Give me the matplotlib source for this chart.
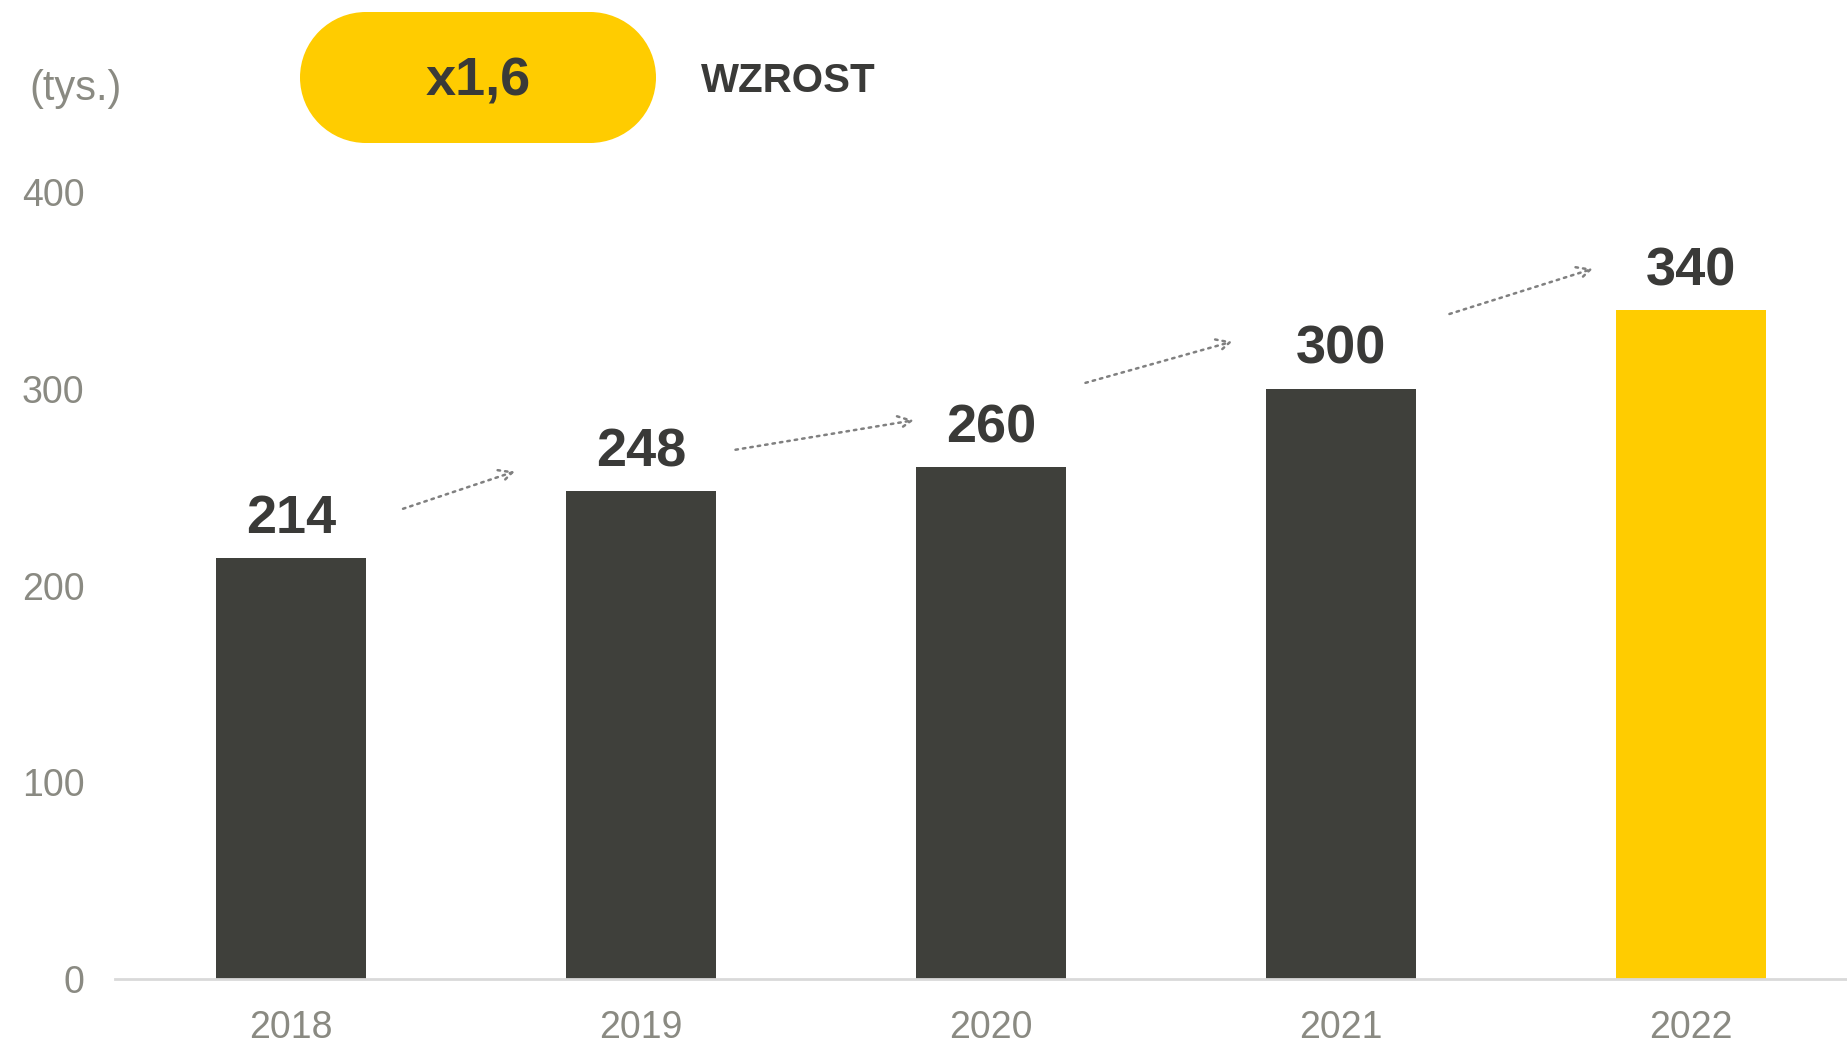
import matplotlib
matplotlib.use("Agg")
import matplotlib.pyplot as plt
from matplotlib.patches import Rectangle, Ellipse

YEARS = ["2018", "2019", "2020", "2021", "2022"]
VALUES = [214, 248, 260, 300, 340]
Y_TICKS = [0, 100, 200, 300, 400]
UNIT = "(tys.)"
BADGE = "x1,6"
BADGE_LABEL = "WZROST"
# dotted growth arrows between bars: (x0, y0, x1, y1) in data units
ARROWS = [(0.32, 239, 0.64, 258),
          (1.27, 269, 1.78, 284),
          (2.27, 303, 2.69, 324),
          (3.31, 338, 3.72, 361)]

DARK = "#3f403b"
YELLOW = "#ffcc00"
GREY = "#8a8a82"
TXT = "#3a3a38"

plt.rcParams["font.family"] = ["Liberation Sans", "DejaVu Sans"]

W, H = 1847, 1045
fig = plt.figure(figsize=(W / 100, H / 100), dpi=100)
ax = fig.add_axes([115 / W, (H - 979) / H, 1 - 115 / W, (979 - 192) / H])

colors = [DARK] * (len(VALUES) - 1) + [YELLOW]
x = range(len(VALUES))
ax.bar(x, VALUES, width=0.43, color=colors, zorder=2)
for i, v in enumerate(VALUES):
    ax.annotate(f"{v}", (i, v), xytext=(0, 10), textcoords="offset points",
                ha="center", va="bottom", fontsize=39, fontweight="bold",
                color=TXT, annotation_clip=False)

for x0, y0, x1, y1 in ARROWS:
    ax.annotate("", xy=(x1, y1), xytext=(x0, y0),
                arrowprops=dict(arrowstyle="->", color="#808080", lw=1.8,
                                linestyle=(0, (1, 2)), mutation_scale=24,
                                shrinkA=0, shrinkB=0))

ax.set_xlim(-0.503, 4.446)
ax.set_ylim(0, 400)
ax.set_xticks(list(x))
ax.set_xticklabels(YEARS)
ax.set_yticks(Y_TICKS)
ax.tick_params(axis="both", length=0, labelsize=27, labelcolor=GREY)
ax.tick_params(axis="x", pad=22)
ax.tick_params(axis="y", pad=22)
for s in ["top", "right", "left"]:
    ax.spines[s].set_visible(False)
ax.spines["bottom"].set_color("#d9d9d9")
ax.spines["bottom"].set_linewidth(2)

# overlay in pixel coordinates for header items
ov = fig.add_axes([0, 0, 1, 1], zorder=5)
ov.set_xlim(0, W)
ov.set_ylim(H, 0)
ov.axis("off")
ov.patch.set_alpha(0)
# pill-shaped badge: straight middle + round ends
ov.add_patch(Rectangle((364, 12), 228, 131, fc=YELLOW, ec="none"))
ov.add_patch(Ellipse((366, 77.5), 132, 131, fc=YELLOW, ec="none"))
ov.add_patch(Ellipse((590, 77.5), 132, 131, fc=YELLOW, ec="none"))
ov.text(478, 82, BADGE, ha="center", va="center", fontsize=39,
        fontweight="bold", color=TXT)
ov.text(701, 81, BADGE_LABEL, ha="left", va="center", fontsize=29,
        fontweight="bold", color=TXT)
ov.text(29, 89, UNIT, ha="left", va="center", fontsize=30, color=GREY)

fig.savefig("out.png", dpi=100)
